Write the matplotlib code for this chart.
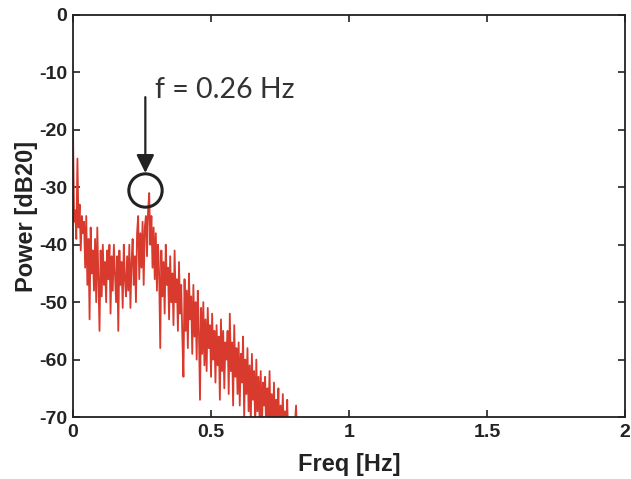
import matplotlib
matplotlib.use('Agg')
import matplotlib.pyplot as plt
import numpy as np

plt.rcParams['axes.unicode_minus'] = False
plt.rcParams['font.family'] = ['Liberation Sans', 'DejaVu Sans']

# power spectrum, one value every 0.004 Hz
power = [
    -20, -36, -34, -39, -25, -37, -33, -41, -35, -38,
    -36, -44, -35, -47, -39, -53, -37, -45, -41, -48,
    -39, -50, -37, -46, -55, -41, -49, -40, -47, -43,
    -50, -41, -46, -40, -52, -42, -48, -40, -45, -50,
    -42, -55, -41, -47, -43, -51, -40, -46, -49, -42,
    -48, -40, -51, -43, -39, -47, -42, -50, -38, -35,
    -46, -38, -44, -36, -47, -37, -35, -42, -34, -31,
    -40, -35, -44, -37, -46, -38, -48, -40, -45, -58,
    -41, -49, -43, -52, -40, -47, -44, -53, -42, -50,
    -45, -54, -41, -50, -46, -55, -43, -52, -47, -56,
    -63, -46, -55, -48, -58, -45, -53, -49, -59, -47,
    -56, -50, -60, -48, -55, -67, -51, -59, -50, -61,
    -53, -62, -51, -58, -54, -63, -52, -60, -55, -64,
    -54, -61, -56, -67, -53, -62, -55, -65, -57, -60,
    -55, -66, -52, -62, -57, -68, -54, -63, -58, -66,
    -57, -68, -59, -64, -56, -70, -60, -66, -58, -69,
    -61, -71, -59, -67, -62, -72, -60, -69, -63, -71,
    -62, -73, -64, -68, -63, -74, -65, -70, -62, -73,
    -66, -72, -64, -74, -67, -71, -65, -75, -68, -73,
    -66, -74, -69, -72, -67, -75, -70, -73, -72, -76,
    -74, -71, -68, -74, -76,
]
df = 0.004
freq = np.arange(len(power)) * df

peak_f = 0.262
peak_db = -30.5
label = 'f = 0.26 Hz'

xticks = [0, 0.5, 1, 1.5, 2]
xticklabels = ['0', '0.5', '1', '1.5', '2']
yticks = [0, -10, -20, -30, -40, -50, -60, -70]

fig = plt.figure(figsize=(6.31, 4.79), dpi=100)
ax = fig.add_axes([0.1157, 0.1294, 0.875, 0.8393])

ax.plot(freq, power, color='#d93a2e', linewidth=1.3)

ax.set_xlim(0, 2)
ax.set_ylim(-70, 0)
ax.set_xticks(xticks)
ax.set_xticklabels(xticklabels)
ax.set_yticks(yticks)
ax.tick_params(direction='in', length=5, width=1.2, top=True, right=True,
               labelsize=14, colors='#222222')
ax.tick_params(axis='y', pad=4)
ax.tick_params(axis='x', pad=5)
for lab in ax.get_xticklabels() + ax.get_yticklabels():
    lab.set_fontweight('bold')
for s in ax.spines.values():
    s.set_linewidth(1.3)
    s.set_color('#222222')

ax.set_xlabel('Freq [Hz]', fontsize=17, fontweight='bold', color='#222222', labelpad=9)
ax.set_ylabel('Power [dB20]', fontsize=17, fontweight='bold', color='#222222', labelpad=1)

# circle + arrow + label for the breathing peak
ax.plot([peak_f], [peak_db], 'o', ms=24, mfc='none', mec='#222222', mew=2.2)
ax.annotate('', xy=(peak_f, -27.5), xytext=(peak_f, -14.3),
            arrowprops=dict(arrowstyle='-|>,head_length=0.55,head_width=0.27',
                            mutation_scale=20, color='#222222', lw=1.6,
                            shrinkA=0, shrinkB=0))
ax.text(0.298, -13, label, fontsize=20.5, color='#333333', va='center',
        family=['Lato', 'DejaVu Sans'])

fig.savefig('out.png', dpi=100)
